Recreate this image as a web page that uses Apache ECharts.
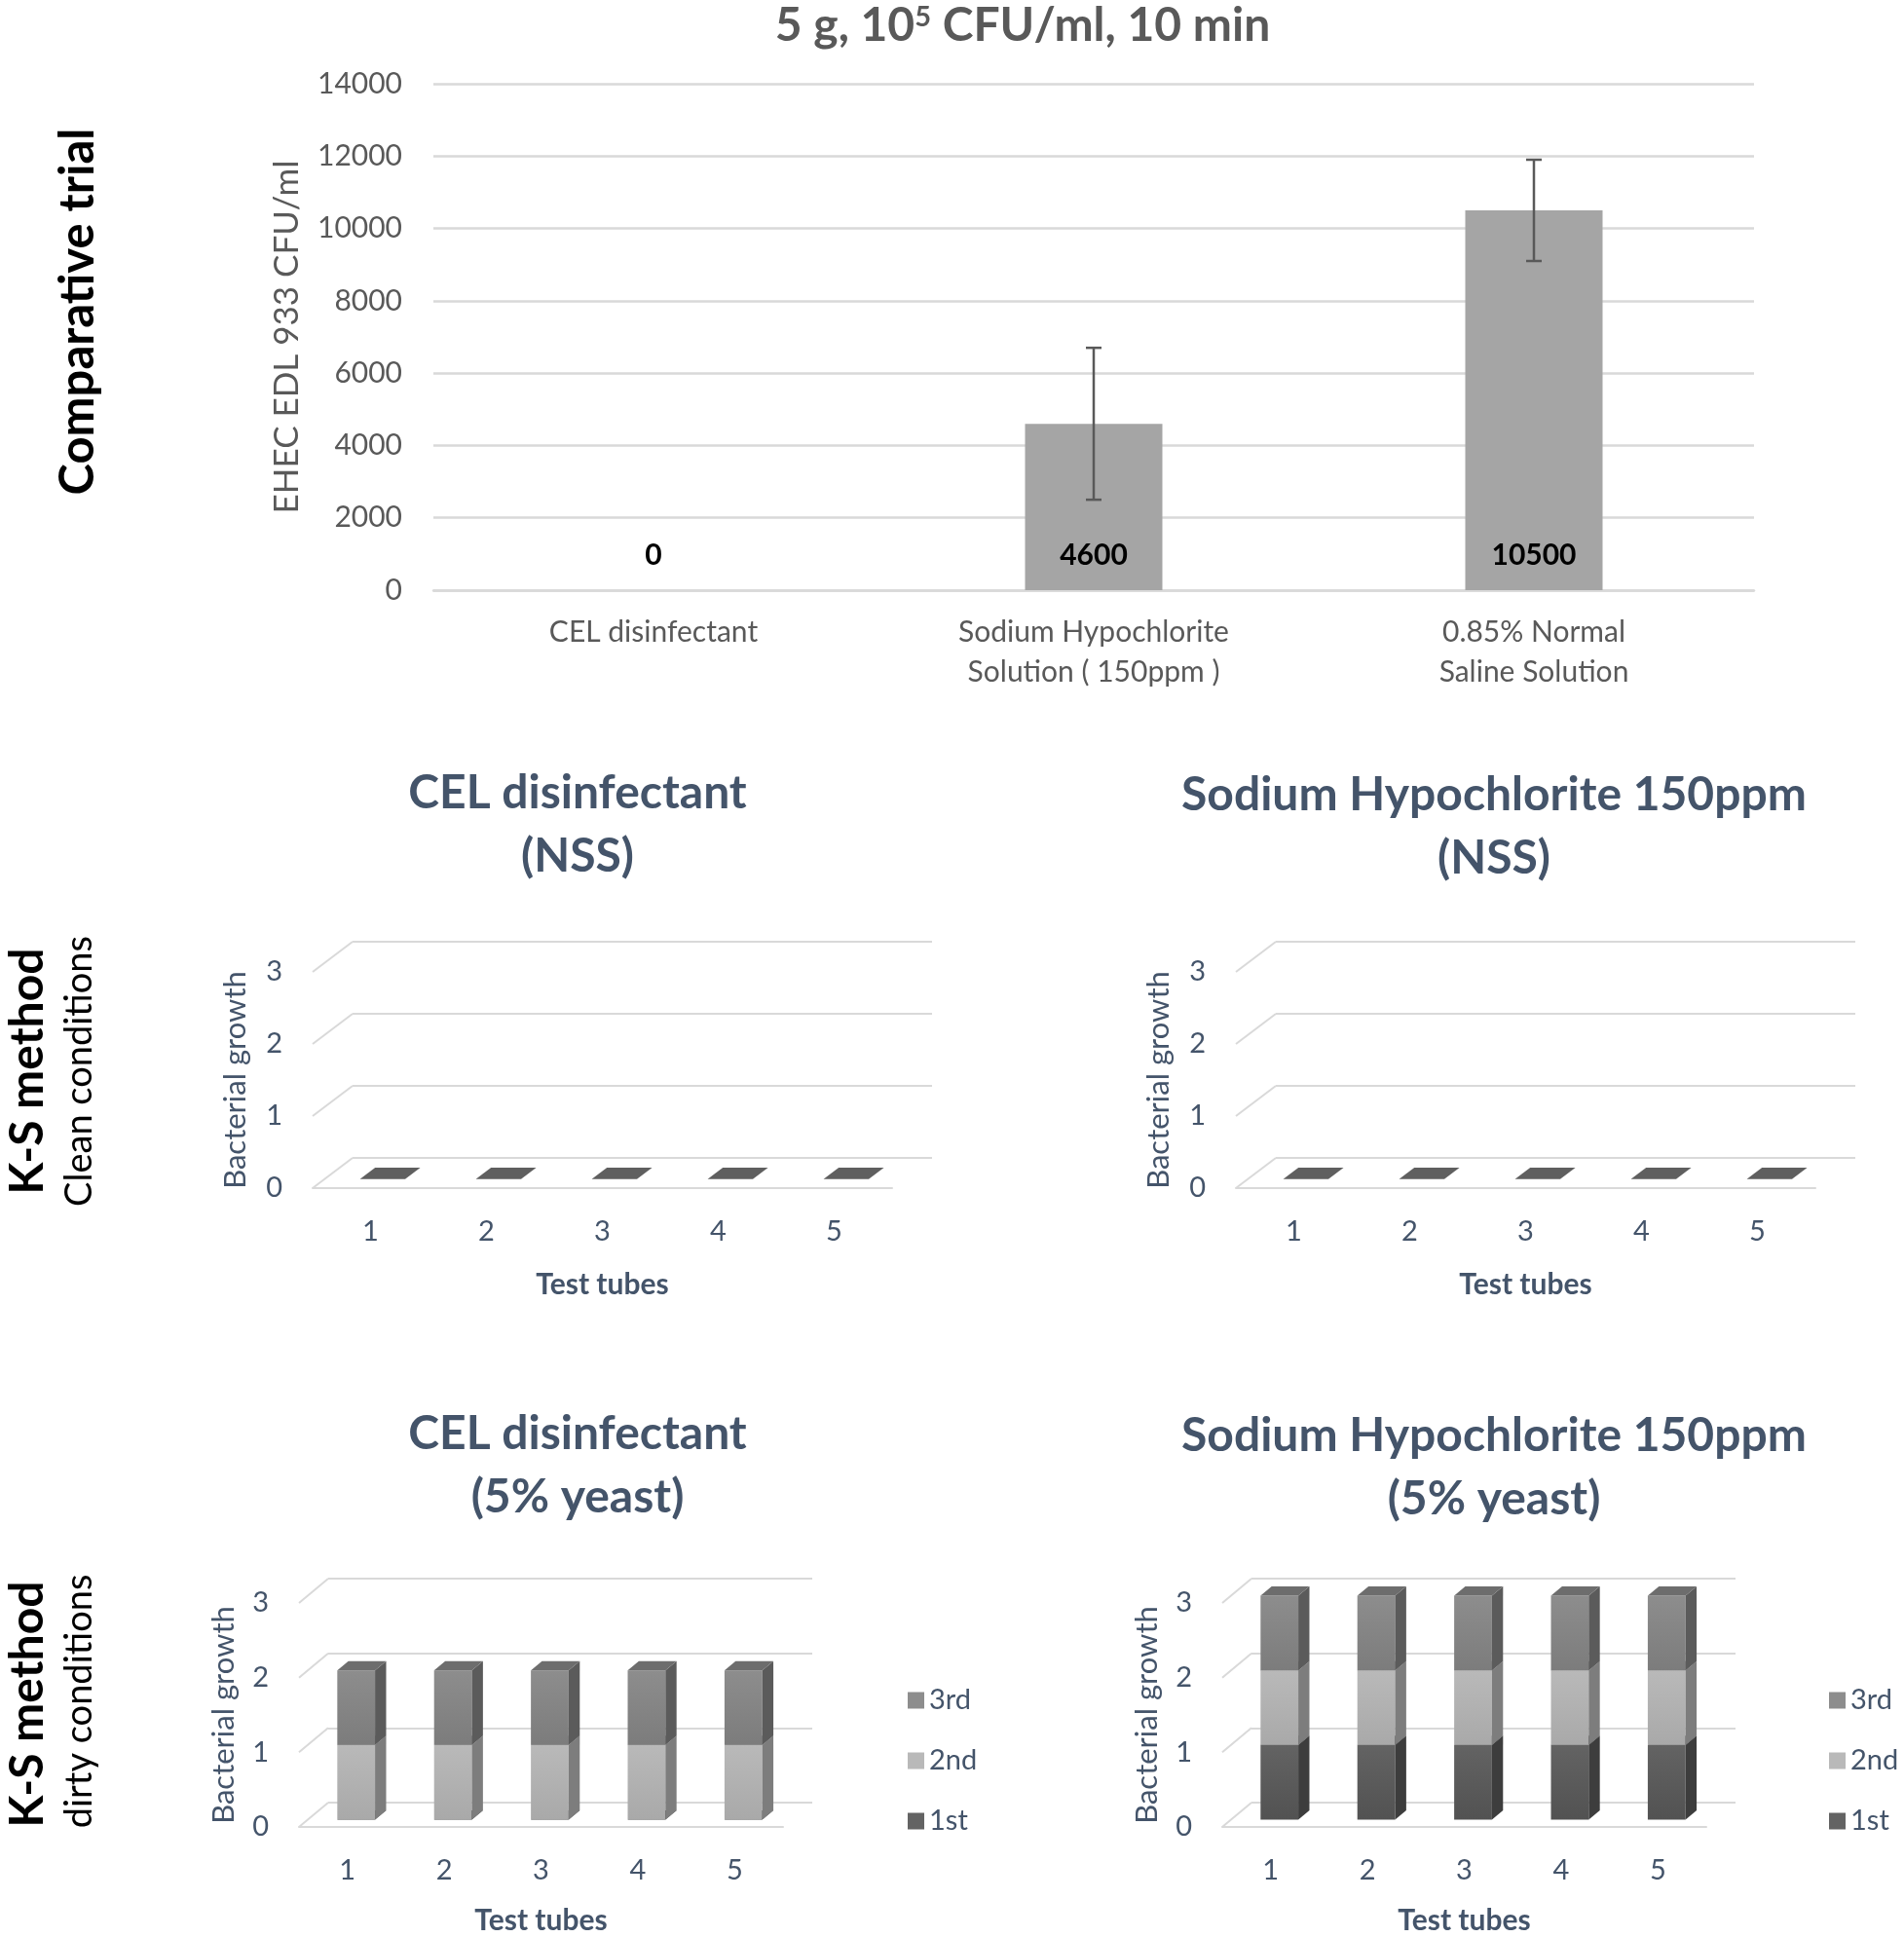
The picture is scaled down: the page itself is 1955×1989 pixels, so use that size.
<!DOCTYPE html>
<html>
<head>
<meta charset="utf-8">
<script src="https://cdn.jsdelivr.net/npm/echarts@6/dist/echarts.min.js"></script>
<style>
  html, body { margin: 0; padding: 0; background: #fff; }
  #chart { width: 1955px; height: 1989px; }
</style>
</head>
<body>
<div id="chart"></div>
<script>
// --- comparative trial (top chart) ---
const trialCategories = ['CEL disinfectant', 'Sodium Hypochlorite\nSolution ( 150ppm )', '0.85% Normal\nSaline Solution'];
const trialValues = [0, 4600, 10500];
const trialErrors = [0, 2100, 1400];
const trialMax = 14000;
const trialStep = 2000;

// --- K-S method panels ---
const tubes = ['1', '2', '3', '4', '5'];
const growthTicks = [0, 1, 2, 3];
const celClean = [0, 0, 0, 0, 0];
const naoclClean = [0, 0, 0, 0, 0];
const celYeast1st = [0, 0, 0, 0, 0];
const celYeast2nd = [1, 1, 1, 1, 1];
const celYeast3rd = [1, 1, 1, 1, 1];
const naoclYeast1st = [1, 1, 1, 1, 1];
const naoclYeast2nd = [1, 1, 1, 1, 1];
const naoclYeast3rd = [1, 1, 1, 1, 1];
const legendOrder = ['3rd', '2nd', '1st'];

const FONT = 'Lato, "Open Sans", sans-serif';
const GRID_COLOR = '#D9D9D9';
const SLATE = '#44546A';
const GREY_TEXT = '#595959';

// shading of the fake 3D columns
const shades = {
  '1st': { hi: '#636363', lo: '#525252', side: '#3d3d3d', top: '#4a4a4a' },
  '2nd': { hi: '#b9b9b9', lo: '#a9a9a9', side: '#7d7d7d', top: '#969696' },
  '3rd': { hi: '#8d8d8d', lo: '#7c7c7c', side: '#5b5b5b', top: '#6d6d6d' },
  flat: { hi: '#5f5f5f', lo: '#5f5f5f', side: '#4a4a4a', top: '#5f5f5f' }
};
const BAR_SHARE = 0.39;   // column width / category band
const FRONT_SHIFT = 0.3;  // where the column starts inside the floor depth
const BOX_DEPTH = 0.38;   // column depth / floor depth

const chart = echarts.init(document.getElementById('chart'));

const grids = [], xAxes = [], yAxes = [], series = [], legends = [];

// ---------- top chart ----------
grids.push({ left: 445, top: 86, width: 1356, height: 520 });
xAxes.push({
  gridIndex: 0, type: 'category', data: trialCategories,
  axisTick: { show: false },
  axisLine: { lineStyle: { color: GRID_COLOR, width: 2.5 } },
  axisLabel: { color: GREY_TEXT, fontFamily: FONT, fontSize: 30, lineHeight: 41, margin: 23, interval: 0 }
});
yAxes.push({
  gridIndex: 0, type: 'value', min: 0, max: trialMax, interval: trialStep,
  name: 'EHEC EDL 933 CFU/ml', nameLocation: 'middle', nameGap: 133,
  nameTextStyle: { color: GREY_TEXT, fontFamily: FONT, fontSize: 35 },
  axisLabel: { color: GREY_TEXT, fontFamily: FONT, fontSize: 30, margin: 32, formatter: v => String(v) },
  axisLine: { show: false }, axisTick: { show: false },
  splitLine: { lineStyle: { color: GRID_COLOR, width: 2.5 } }
});
series.push({
  type: 'bar', xAxisIndex: 0, yAxisIndex: 0, data: trialValues, barWidth: 141,
  itemStyle: { color: '#A5A5A5' },
  label: { show: true, position: 'insideBottom', distance: 21, color: '#000',
    fontFamily: FONT, fontWeight: 'bold', fontSize: 30 }
});
series.push({
  type: 'custom', xAxisIndex: 0, yAxisIndex: 0, z: 3,
  data: trialValues.map((v, i) => [i, v - trialErrors[i], v + trialErrors[i]])
    .filter(d => d[2] > d[1]),
  renderItem: function (params, api) {
    const i = api.value(0);
    const lo = api.coord([i, api.value(1)]);
    const hi = api.coord([i, api.value(2)]);
    const cap = 8;
    const style = { stroke: GREY_TEXT, lineWidth: 2.5 };
    return {
      type: 'group',
      children: [
        { type: 'line', shape: { x1: hi[0], y1: hi[1], x2: lo[0], y2: lo[1] }, style },
        { type: 'line', shape: { x1: hi[0] - cap, y1: hi[1], x2: hi[0] + cap, y2: hi[1] }, style },
        { type: 'line', shape: { x1: lo[0] - cap, y1: lo[1], x2: lo[0] + cap, y2: lo[1] }, style }
      ]
    };
  }
});

// ---------- K-S panels ----------
function boxRenderer(shade, depth) {
  const fill = new echarts.graphic.LinearGradient(0, 0, 0, 1, [
    { offset: 0, color: shade.hi }, { offset: 1, color: shade.lo }
  ]);
  return function (params, api) {
    const i = api.value(0);
    const base = api.coord([i, api.value(1)]);
    const top = api.coord([i, api.value(2)]);
    const w = api.size([1, 0])[0] * BAR_SHARE;
    const sx = depth[0] * FRONT_SHIFT, sy = depth[1] * FRONT_SHIFT;
    const dx = depth[0] * BOX_DEPTH, dy = depth[1] * BOX_DEPTH;
    const x0 = base[0] - w / 2 + sx, x1 = x0 + w;
    const yb = base[1] + sy, yt = top[1] + sy;
    const children = [];
    if (yb - yt > 0.5) {
      children.push({ type: 'polygon', shape: { points: [[x0, yt], [x1, yt], [x1, yb], [x0, yb]] }, style: { fill } });
      children.push({ type: 'polygon', shape: { points: [[x1, yt], [x1 + dx, yt + dy], [x1 + dx, yb + dy], [x1, yb]] }, style: { fill: shade.side } });
    }
    children.push({ type: 'polygon', shape: { points: [[x0, yt], [x1, yt], [x1 + dx, yt + dy], [x0 + dx, yt + dy]] }, style: { fill: shade.top } });
    return { type: 'group', children };
  };
}

function addPanel(p) {
  const front = grids.length;
  grids.push({ left: p.left, top: p.top, width: p.width, height: p.height });
  grids.push({ left: p.left + p.depth[0], top: p.top + p.depth[1], width: p.width, height: p.height });
  const xi = xAxes.length, yi = yAxes.length;
  xAxes.push({
    gridIndex: front, type: 'category', data: tubes,
    name: 'Test tubes', nameLocation: 'middle', nameGap: p.nameGapX,
    nameTextStyle: { color: SLATE, fontFamily: FONT, fontWeight: 'bold', fontSize: 30 },
    axisTick: { show: false },
    axisLine: { lineStyle: { color: GRID_COLOR, width: 2 } },
    axisLabel: { color: SLATE, fontFamily: FONT, fontSize: 29, margin: 30 }
  });
  xAxes.push({ gridIndex: front + 1, type: 'category', data: tubes, show: false });
  yAxes.push({
    gridIndex: front, type: 'value', min: 0, max: growthTicks[growthTicks.length - 1], interval: 1,
    name: 'Bacterial growth', nameLocation: 'middle', nameGap: p.nameGapY,
    nameTextStyle: { color: SLATE, fontFamily: FONT, fontSize: 31 },
    axisLine: { show: false }, axisTick: { show: false }, splitLine: { show: false },
    axisLabel: { color: SLATE, fontFamily: FONT, fontSize: 29, margin: 31 }
  });
  yAxes.push({
    gridIndex: front + 1, type: 'value', min: 0, max: growthTicks[growthTicks.length - 1], interval: 1,
    axisLine: { show: false }, axisTick: { show: false }, axisLabel: { show: false },
    splitLine: { lineStyle: { color: GRID_COLOR, width: 2 } }
  });
  // left side wall: lines joining the front axis to the back wall
  series.push({
    type: 'custom', xAxisIndex: xi, yAxisIndex: yi, z: 1, clip: false, silent: true,
    data: growthTicks.map(v => [0, v]),
    renderItem: function (params, api) {
      const cs = params.coordSys;
      const y = api.coord([0, api.value(1)])[1];
      return {
        type: 'line',
        shape: { x1: cs.x, y1: y, x2: cs.x + p.depth[0], y2: y + p.depth[1] },
        style: { stroke: GRID_COLOR, lineWidth: 2 }
      };
    }
  });
  // stacked columns
  const base = tubes.map(() => 0);
  p.layers.forEach(layer => {
    const data = layer.values.map((v, i) => [i, base[i], base[i] + v]);
    layer.values.forEach((v, i) => { base[i] += v; });
    const shade = shades[layer.shade || layer.name];
    series.push({
      type: 'custom', name: layer.name, xAxisIndex: xi, yAxisIndex: yi, z: 2, clip: false,
      itemStyle: { color: shade.hi },
      data, renderItem: boxRenderer(shade, p.depth)
    });
  });
  if (p.legend) {
    legends.push({
      orient: 'vertical', left: p.legend[0], top: p.legend[1], data: legendOrder,
      icon: 'rect', itemWidth: 17, itemHeight: 17, itemGap: 32, selectedMode: false,
      textStyle: { color: SLATE, fontFamily: FONT, fontSize: 29, lineHeight: 30 }
    });
  }
}

const RIGHT_SHIFT = 948;
const clean = { top: 998, height: 222, width: 595, depth: [41, -31], nameGapX: 84, nameGapY: 64 };
const dirty = { top: 1646, height: 230, width: 497, depth: [30, -25], nameGapX: 81, nameGapY: 62 };

addPanel(Object.assign({}, clean, { left: 321, layers: [{ name: 'growth', shade: 'flat', values: celClean }] }));
addPanel(Object.assign({}, clean, { left: 321 + RIGHT_SHIFT, layers: [{ name: 'growth', shade: 'flat', values: naoclClean }] }));
addPanel(Object.assign({}, dirty, { left: 307, legend: [927, 1726], layers: [
  { name: '1st', values: celYeast1st }, { name: '2nd', values: celYeast2nd }, { name: '3rd', values: celYeast3rd }] }));
addPanel(Object.assign({}, dirty, { left: 307 + RIGHT_SHIFT, legend: [1873, 1726], layers: [
  { name: '1st', values: naoclYeast1st }, { name: '2nd', values: naoclYeast2nd }, { name: '3rd', values: naoclYeast3rd }] }));

// ---------- free texts ----------
function text(x, y, str, size, weight, color, extra) {
  return Object.assign({
    type: 'text', x, y, silent: true,
    style: { text: str, fontFamily: FONT, fontSize: size, fontWeight: weight, fill: color,
      align: 'center', verticalAlign: 'middle' }
  }, extra || {});
}
const up = { rotation: Math.PI / 2 };
const graphics = [
  {
    type: 'text', x: 1050, y: 27, silent: true,
    style: {
      text: '5 g, 10{sup|5} CFU/ml, 10 min', fontFamily: FONT, fontSize: 48, fontWeight: 'bold',
      fill: GREY_TEXT, align: 'center', verticalAlign: 'middle',
      rich: { sup: { fontFamily: FONT, fontSize: 29, fontWeight: 'bold', fill: GREY_TEXT, verticalAlign: 'top' } }
    }
  },
  text(80, 320, 'Comparative trial', 49, 'bold', '#000', up),
  text(29, 1100, 'K-S method', 48, 'bold', '#000', up),
  text(82, 1100, 'Clean conditions', 38, 'normal', '#000', up),
  text(29, 1750, 'K-S method', 48, 'bold', '#000', up),
  text(82, 1747, 'dirty conditions', 38, 'normal', '#000', up),
  text(593, 847, 'CEL disinfectant\n(NSS)', 48, 'bold', SLATE),
  text(1534, 849, 'Sodium Hypochlorite 150ppm\n(NSS)', 48, 'bold', SLATE),
  text(593, 1505, 'CEL disinfectant\n(5% yeast)', 48, 'bold', SLATE),
  text(1534, 1507, 'Sodium Hypochlorite 150ppm\n(5% yeast)', 48, 'bold', SLATE)
];
graphics.slice(6).forEach(g => { g.style.lineHeight = 65; });

chart.setOption({
  animation: false,
  backgroundColor: '#fff',
  grid: grids,
  xAxis: xAxes,
  yAxis: yAxes,
  legend: legends,
  series,
  graphic: graphics
});
</script>
</body>
</html>
